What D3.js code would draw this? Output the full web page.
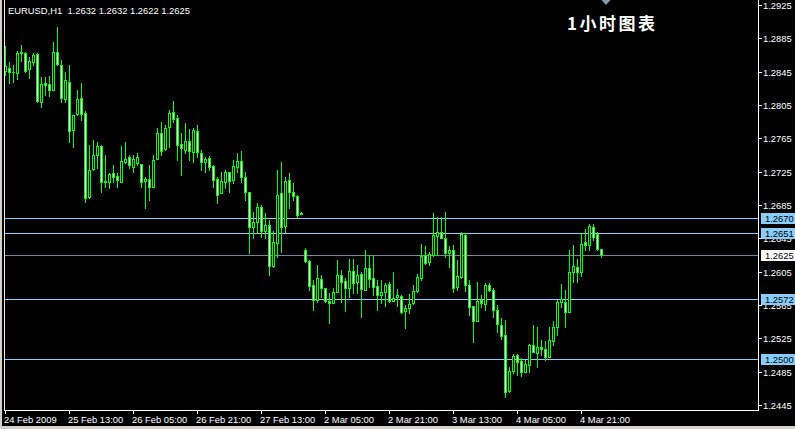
<!DOCTYPE html>
<html><head><meta charset="utf-8">
<script src="https://cdn.jsdelivr.net/npm/d3@7"></script>
<style>html,body{margin:0;padding:0;background:#000;overflow:hidden}svg{display:block}</style>
</head><body><svg id="c" width="795" height="429"></svg>
<script>
// ---- data (EURUSD H1) ----
const openP = [1.2846,1.2850,1.2845,1.2843,1.2867,1.2868,1.2848,1.2857,1.2866,1.2809,1.2832,1.2830,1.2823,1.2869,1.2853,1.2812,1.2833,1.2775,1.2794,1.2813,1.2795,1.2695,1.2728,1.2745,1.2756,1.2714,1.2713,1.2723,1.2720,1.2713,1.2737,1.2742,1.2731,1.2735,1.2734,1.2714,1.2716,1.2707,1.2740,1.2772,1.2752,1.2778,1.2796,1.2789,1.2758,1.2751,1.2762,1.2749,1.2774,1.2748,1.2737,1.2741,1.2732,1.2716,1.2699,1.2713,1.2724,1.2715,1.2731,1.2738,1.2719,1.2700,1.2658,1.2665,1.2682,1.2654,1.2661,1.2612,1.2639,1.2699,1.2660,1.2715,1.2701,1.2696,1.2674,1.2631,1.2618,1.2589,1.2571,1.2596,1.2585,1.2570,1.2567,1.2581,1.2601,1.2594,1.2586,1.2606,1.2592,1.2602,1.2583,1.2610,1.2597,1.2588,1.2577,1.2580,1.2590,1.2570,1.2574,1.2576,1.2558,1.2561,1.2567,1.2582,1.2597,1.2625,1.2616,1.2625,1.2648,1.2653,1.2646,1.2628,1.2631,1.2587,1.2598,1.2649,1.2589,1.2564,1.2546,1.2571,1.2566,1.2589,1.2583,1.2559,1.2541,1.2529,1.2462,1.2486,1.2505,1.2498,1.2485,1.2493,1.2517,1.2508,1.2514,1.2512,1.2503,1.2522,1.2539,1.2569,1.2569,1.2557,1.2605,1.2611,1.2604,1.2640,1.2637,1.2659,1.2650,1.2632];
const highP = [1.2876,1.2857,1.2853,1.2870,1.2877,1.2869,1.2862,1.2868,1.2868,1.2839,1.2838,1.2840,1.2881,1.2899,1.2859,1.2845,1.2853,1.2793,1.2823,1.2832,1.2798,1.2757,1.2763,1.2761,1.2757,1.2745,1.2723,1.2733,1.2723,1.2756,1.2761,1.2745,1.2745,1.2747,1.2734,1.2719,1.2733,1.2745,1.2777,1.2785,1.2781,1.2799,1.2810,1.2793,1.2771,1.2783,1.2776,1.2777,1.2781,1.2751,1.2743,1.2744,1.2733,1.2718,1.2725,1.2727,1.2725,1.2739,1.2747,1.2750,1.2725,1.2701,1.2677,1.2687,1.2685,1.2675,1.2667,1.2654,1.2727,1.2736,1.2718,1.2723,1.2711,1.2697,1.2676,1.2633,1.2619,1.2595,1.2613,1.2601,1.2586,1.2579,1.2585,1.2619,1.2607,1.2597,1.2620,1.2620,1.2613,1.2604,1.2631,1.2625,1.2624,1.2595,1.2595,1.2591,1.2593,1.2604,1.2584,1.2577,1.2565,1.2578,1.2589,1.2602,1.2638,1.2636,1.2629,1.2675,1.2671,1.2671,1.2677,1.2636,1.2637,1.2619,1.2653,1.2651,1.2595,1.2564,1.2593,1.2577,1.2591,1.2591,1.2585,1.2565,1.2549,1.2547,1.2491,1.2506,1.2506,1.2501,1.2499,1.2518,1.2541,1.2539,1.2523,1.2522,1.2539,1.2546,1.2571,1.2590,1.2583,1.2631,1.2637,1.2620,1.2651,1.2656,1.2662,1.2662,1.2653,1.2632];
const lowP = [1.2841,1.2831,1.2833,1.2836,1.2858,1.2845,1.2837,1.2853,1.2809,1.2803,1.2817,1.2816,1.2823,1.2853,1.2809,1.2809,1.2761,1.2755,1.2793,1.2787,1.2689,1.2693,1.2727,1.2729,1.2701,1.2707,1.2705,1.2713,1.2707,1.2713,1.2735,1.2729,1.2725,1.2733,1.2707,1.2681,1.2691,1.2707,1.2740,1.2745,1.2751,1.2755,1.2785,1.2739,1.2721,1.2747,1.2739,1.2737,1.2743,1.2727,1.2725,1.2727,1.2707,1.2688,1.2699,1.2705,1.2701,1.2711,1.2725,1.2713,1.2691,1.2627,1.2645,1.2653,1.2647,1.2645,1.2601,1.2611,1.2623,1.2629,1.2653,1.2681,1.2691,1.2669,1.2674,1.2616,1.2583,1.2559,1.2569,1.2575,1.2569,1.2543,1.2567,1.2581,1.2569,1.2558,1.2575,1.2579,1.2579,1.2551,1.2583,1.2587,1.2577,1.2559,1.2567,1.2564,1.2569,1.2570,1.2564,1.2555,1.2537,1.2555,1.2566,1.2581,1.2595,1.2614,1.2613,1.2624,1.2625,1.2645,1.2622,1.2611,1.2580,1.2583,1.2597,1.2582,1.2553,1.2520,1.2546,1.2562,1.2559,1.2582,1.2551,1.2533,1.2524,1.2455,1.2461,1.2483,1.2481,1.2480,1.2485,1.2485,1.2509,1.2491,1.2505,1.2499,1.2503,1.2517,1.2529,1.2563,1.2538,1.2556,1.2593,1.2593,1.2600,1.2631,1.2631,1.2643,1.2631,1.2622];
const closeP = [1.2852,1.2845,1.2844,1.2868,1.2869,1.2846,1.2858,1.2865,1.2810,1.2830,1.2829,1.2823,1.2869,1.2854,1.2813,1.2835,1.2774,1.2793,1.2812,1.2794,1.2693,1.2727,1.2745,1.2756,1.2713,1.2712,1.2722,1.2719,1.2715,1.2738,1.2740,1.2733,1.2740,1.2742,1.2713,1.2716,1.2707,1.2739,1.2771,1.2750,1.2777,1.2795,1.2788,1.2757,1.2753,1.2762,1.2750,1.2775,1.2749,1.2737,1.2740,1.2731,1.2715,1.2697,1.2714,1.2725,1.2714,1.2732,1.2738,1.2718,1.2701,1.2659,1.2664,1.2682,1.2654,1.2661,1.2612,1.2640,1.2697,1.2659,1.2714,1.2700,1.2696,1.2673,1.2675,1.2618,1.2588,1.2571,1.2597,1.2586,1.2570,1.2567,1.2580,1.2601,1.2593,1.2585,1.2606,1.2591,1.2601,1.2584,1.2609,1.2596,1.2587,1.2577,1.2580,1.2589,1.2570,1.2573,1.2577,1.2557,1.2561,1.2566,1.2582,1.2598,1.2624,1.2615,1.2626,1.2649,1.2652,1.2646,1.2627,1.2631,1.2586,1.2600,1.2650,1.2589,1.2562,1.2546,1.2570,1.2567,1.2589,1.2583,1.2559,1.2542,1.2528,1.2461,1.2486,1.2504,1.2496,1.2484,1.2494,1.2517,1.2509,1.2514,1.2512,1.2502,1.2523,1.2539,1.2569,1.2572,1.2556,1.2605,1.2612,1.2605,1.2638,1.2637,1.2660,1.2647,1.2632,1.2625];
const timeLabels = ["24 Feb 2009","25 Feb 13:00","26 Feb 05:00","26 Feb 21:00","27 Feb 13:00","2 Mar 05:00","2 Mar 21:00","3 Mar 13:00","4 Mar 05:00","4 Mar 21:00"];
const timeLabelBars = [0,16,32,48,64,80,96,112,128,144];
const priceTicks = [1.2925,1.2885,1.2845,1.2805,1.2765,1.2725,1.2685,1.2645,1.2605,1.2565,1.2525,1.2485,1.2445];
const levelLines = [1.2670,1.2651,1.2572,1.2500];
const bidPrice = 1.2625;
const symbolTitle = "EURUSD,H1";
const lastQuote = [1.2632,1.2632,1.2622,1.2625];
const caption = "1小时图表";

// ---- drawing ----
const W = 795, H = 429;
const svg = d3.select("#c");
const font = "'Liberation Sans', Arial, sans-serif";
const n = openP.length;
const x = d3.scaleLinear().domain([0, n - 1]).range([5, 5 + 4 * (n - 1)]);
const y = d3.scaleLinear().domain([1.2445, 1.2925]).range([405, 5]);
const axisX = 758, axisY = 410;
const fmt = d3.format(".4f");
const LIME = "#00ff00";

svg.append("rect").attr("width", W).attr("height", H).attr("fill", "#000");

// horizontal level lines
levelLines.forEach(v => {
  svg.append("rect").attr("x", 4).attr("width", axisX - 4).attr("y", Math.round(y(v))).attr("height", 1).attr("fill", "#87cefa");
});
svg.append("rect").attr("x", 4).attr("width", axisX - 4).attr("y", Math.round(y(bidPrice))).attr("height", 1).attr("fill", "#778899");

// candles
const g = svg.append("g");
for (let i = 0; i < n; i++) {
  const cx = Math.round(x(i));
  const yh = Math.round(y(highP[i])), yl = Math.round(y(lowP[i]));
  g.append("rect").attr("x", cx).attr("width", 1).attr("y", yh).attr("height", yl - yh + 1).attr("fill", LIME);
  const top = Math.round(y(Math.max(openP[i], closeP[i])));
  const bot = Math.round(y(Math.min(openP[i], closeP[i])));
  const hgt = bot - top + 1;
  g.append("rect").attr("x", cx - 1).attr("width", 3).attr("y", top).attr("height", hgt).attr("fill", LIME);
  if (hgt > 2) {
    g.append("rect").attr("x", cx).attr("width", 1).attr("y", top + 1).attr("height", hgt - 2)
      .attr("fill", closeP[i] >= openP[i] ? "#000" : "#fff");
  }
}

// frame / axes lines
svg.append("rect").attr("x", 0).attr("y", 0).attr("width", 2).attr("height", H).attr("fill", "#d4d0c8");
svg.append("rect").attr("x", 4).attr("y", 0).attr("width", 1).attr("height", axisY + 1).attr("fill", "#e8e8e8");
svg.append("rect").attr("x", axisX).attr("y", 0).attr("width", 1).attr("height", axisY + 1).attr("fill", "#fff");
svg.append("rect").attr("x", 4).attr("y", axisY).attr("width", axisX - 4).attr("height", 1).attr("fill", "#fff");
svg.append("rect").attr("x", 0).attr("y", 426).attr("width", W).attr("height", 3).attr("fill", "#d4d0c8");

// price axis ticks + labels
priceTicks.forEach(v => {
  const ty = Math.round(y(v));
  svg.append("rect").attr("x", axisX + 1).attr("y", ty).attr("width", 3).attr("height", 1).attr("fill", "#fff");
  svg.append("text").attr("x", 763).attr("y", ty + 3.5).attr("fill", "#fff")
    .attr("font-family", font).attr("font-size", "9.4px").text(fmt(v));
});

// level label boxes
function box(v, fill) {
  const ty = Math.round(y(v));
  svg.append("rect").attr("x", 761).attr("y", ty - 5).attr("width", 34).attr("height", 11).attr("fill", fill);
  svg.append("text").attr("x", 765).attr("y", ty + 3.5).attr("fill", "#000")
    .attr("font-family", font).attr("font-size", "9.4px").text(fmt(v));
}
levelLines.forEach(v => box(v, "#87cefa"));
box(bidPrice, "#fff");

// time axis
timeLabelBars.forEach((b, k) => {
  const tx = Math.round(x(b));
  svg.append("rect").attr("x", tx).attr("y", axisY + 1).attr("width", 1).attr("height", 3).attr("fill", "#fff");
  svg.append("text").attr("x", tx - 1).attr("y", 423).attr("fill", "#fff")
    .attr("font-family", font).attr("font-size", "9.4px").text(timeLabels[k]);
});

// title
svg.append("text").attr("x", 8).attr("y", 14).attr("fill", "#fff").attr("font-family", font)
  .attr("font-size", "9.4px").style("white-space", "pre")
  .text(symbolTitle + "  " + lastQuote.map(fmt).join(" "));

// chart shift marker
svg.append("path").attr("d", "M601.5,0 L610.5,0 L606,5 Z").attr("fill", "#8798ab");

// caption
svg.append("text").attr("x", 567).attr("y", 30).attr("fill", "#fff")
  .attr("font-family", "'Noto Sans CJK SC', sans-serif").attr("font-weight", "bold")
  .attr("font-size", "17px").attr("textLength", 88).attr("lengthAdjust", "spacing").text(caption);
</script>
</body></html>
